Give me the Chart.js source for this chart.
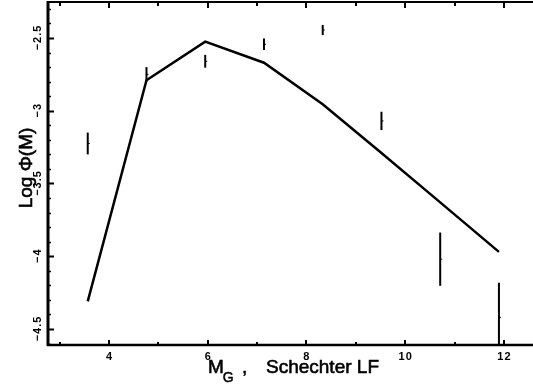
<!DOCTYPE html>
<html>
<head>
<meta charset="utf-8">
<script src="https://cdn.jsdelivr.net/npm/chart.js@4/dist/chart.umd.min.js"></script>
<style>
html,body{margin:0;padding:0;background:#fff;}
canvas{display:block;}
</style>
</head>
<body>
<canvas id="c" width="533" height="387"></canvas>
<script>
// Model (Schechter LF) line
const modelX = [3.57, 4.76, 5.95, 7.14, 8.33, 9.52, 10.71, 11.90];
const modelY = [-4.31, -2.79, -2.525, -2.67, -2.955, -3.29, -3.63, -3.97];
// Observed points with error bars
const obsX = [3.57, 4.76, 5.95, 7.14, 8.33, 9.52, 10.71, 11.90];
const obsY = [-3.225, -2.75, -2.66, -2.543, -2.445, -3.07, -4.02, -4.42];
const obsErr = [0.075, 0.05, 0.044, 0.04, 0.035, 0.063, 0.183, 0.238];
// Axis ticks
const xMajorTicks = [4, 6, 8, 10, 12];
const xTickLabels = ['4', '6', '8', '10', '12'];
const xMinorTicks = [3, 5, 7, 9, 11];
const yMajorTicks = [-2.5, -3, -3.5, -4, -4.5];
const yTickLabels = ['\u22122.5', '\u22123', '\u22123.5', '\u22124', '\u22124.5'];
const yMinorStep = 0.1;

const FONT = '"Liberation Sans", Arial, Helvetica, sans-serif';

const errorBars = {
  id: 'errorBars',
  afterDatasetsDraw(chart) {
    const {ctx, chartArea: a, scales: {x, y}} = chart;
    ctx.save();
    ctx.beginPath();
    ctx.rect(a.left, a.top, a.right - a.left, a.bottom - a.top);
    ctx.clip();
    ctx.strokeStyle = '#000';
    ctx.lineWidth = 2;
    obsX.forEach((vx, i) => {
      const px = x.getPixelForValue(vx);
      ctx.beginPath();
      ctx.moveTo(px, y.getPixelForValue(obsY[i] + obsErr[i]));
      ctx.lineTo(px, y.getPixelForValue(obsY[i] - obsErr[i]));
      ctx.stroke();
    });
    ctx.restore();
  }
};

function heavyText(ctx, s, px, py, w) {
  ctx.fillText(s, px, py);
  ctx.lineWidth = w;
  ctx.strokeText(s, px, py);
}

const axesPlugin = {
  id: 'axesPlugin',
  afterDraw(chart) {
    const {ctx, chartArea: a, scales: {x, y}} = chart;
    ctx.save();
    ctx.strokeStyle = '#000';
    ctx.fillStyle = '#000';
    // frame: left, bottom, top
    ctx.lineWidth = 3;
    ctx.beginPath();
    ctx.moveTo(a.left, a.top - 1);
    ctx.lineTo(a.left, a.bottom + 1);
    ctx.stroke();
    ctx.lineWidth = 2.5;
    ctx.beginPath();
    ctx.moveTo(a.left - 1, a.bottom);
    ctx.lineTo(a.right, a.bottom);
    ctx.stroke();
    ctx.lineWidth = 2;
    ctx.beginPath();
    ctx.moveTo(a.left - 1, a.top);
    ctx.lineTo(a.right, a.top);
    ctx.stroke();
    // x ticks (inward, bottom and top)
    ctx.lineWidth = 2;
    const xt = (v, lb, lt) => {
      const px = Math.round(x.getPixelForValue(v));
      ctx.beginPath();
      ctx.moveTo(px, a.bottom);
      ctx.lineTo(px, a.bottom - lb);
      ctx.moveTo(px, a.top);
      ctx.lineTo(px, a.top + lt);
      ctx.stroke();
    };
    xMajorTicks.forEach(v => xt(v, 5, 6));
    xMinorTicks.forEach(v => xt(v, 3, 4));
    // y ticks (inward)
    const yt = (v, l) => {
      const py = Math.round(y.getPixelForValue(v)) + 0.5;
      ctx.beginPath();
      ctx.moveTo(a.left, py);
      ctx.lineTo(a.left + l, py);
      ctx.stroke();
    };
    ctx.lineWidth = 1.5;
    for (let k = Math.ceil(y.min / yMinorStep); k <= Math.floor(y.max / yMinorStep); k++) {
      const v = k * yMinorStep;
      if (Math.abs(v * 2 - Math.round(v * 2)) < 1e-6) continue;
      yt(v, 3);
    }
    ctx.lineWidth = 2;
    yMajorTicks.forEach(v => yt(v, 6));
    // x tick labels
    ctx.font = 'bold 11px ' + FONT;
    ctx.textBaseline = 'alphabetic';
    ctx.textAlign = 'left';
    if ('letterSpacing' in ctx) ctx.letterSpacing = '1px';
    const centered = (s, cx, cy) => {
      const w = ctx.measureText(s).width;
      ctx.fillText(s, cx - w / 2 + 0.5, cy);
    };
    xMajorTicks.forEach((v, i) => {
      centered(xTickLabels[i], x.getPixelForValue(v), 360);
    });
    // y tick labels (rotated)
    yMajorTicks.forEach((v, i) => {
      ctx.save();
      ctx.translate(41, y.getPixelForValue(v));
      ctx.rotate(-Math.PI / 2);
      centered(yTickLabels[i], 0, 0);
      ctx.restore();
    });
    if ('letterSpacing' in ctx) ctx.letterSpacing = '0px';
    // y title
    ctx.save();
    ctx.translate(31.5, 168);
    ctx.rotate(-Math.PI / 2);
    ctx.font = '19px ' + FONT;
    ctx.textAlign = 'center';
    heavyText(ctx, 'Log \u03A6(M)', 0, 0, 0.6);
    ctx.restore();
    // x title: M_G , Schechter LF
    ctx.textAlign = 'left';
    ctx.font = '19px ' + FONT;
    heavyText(ctx, 'M', 208, 373, 0.6);
    const mw = ctx.measureText('M').width;
    ctx.font = '14px ' + FONT;
    heavyText(ctx, 'G', 208 + mw - 1, 382, 0.5);
    ctx.font = '19px ' + FONT;
    heavyText(ctx, ',', 242, 373, 0.6);
    heavyText(ctx, 'Schechter LF', 266, 373, 0.6);
    ctx.restore();
  }
};

new Chart(document.getElementById('c'), {
  type: 'line',
  data: {
    datasets: [
      {
        data: modelX.map((v, i) => ({x: v, y: modelY[i]})),
        borderColor: '#000',
        borderWidth: 2.5,
        pointRadius: 0,
        pointHoverRadius: 0,
        tension: 0,
        fill: false
      },
      {
        type: 'scatter',
        data: obsX.map((v, i) => ({x: v, y: obsY[i]})),
        pointStyle: 'dash',
        pointRadius: 2,
        pointHoverRadius: 2,
        borderColor: '#000',
        backgroundColor: '#000',
        borderWidth: 1
      }
    ]
  },
  options: {
    responsive: false,
    animation: false,
    devicePixelRatio: 1,
    layout: {autoPadding: false, padding: {top: 2, left: 0, right: 0, bottom: 0}},
    plugins: {legend: {display: false}, tooltip: {enabled: false}},
    scales: {
      x: {
        type: 'linear', min: 2.765, max: 12.59,
        ticks: {display: false}, grid: {display: false}, border: {display: false},
        afterFit(s) { s.height = 42; }
      },
      y: {
        type: 'linear', min: -4.61, max: -2.2526,
        ticks: {display: false}, grid: {display: false}, border: {display: false},
        afterFit(s) { s.width = 48; }
      }
    }
  },
  plugins: [errorBars, axesPlugin]
});
</script>
</body>
</html>
